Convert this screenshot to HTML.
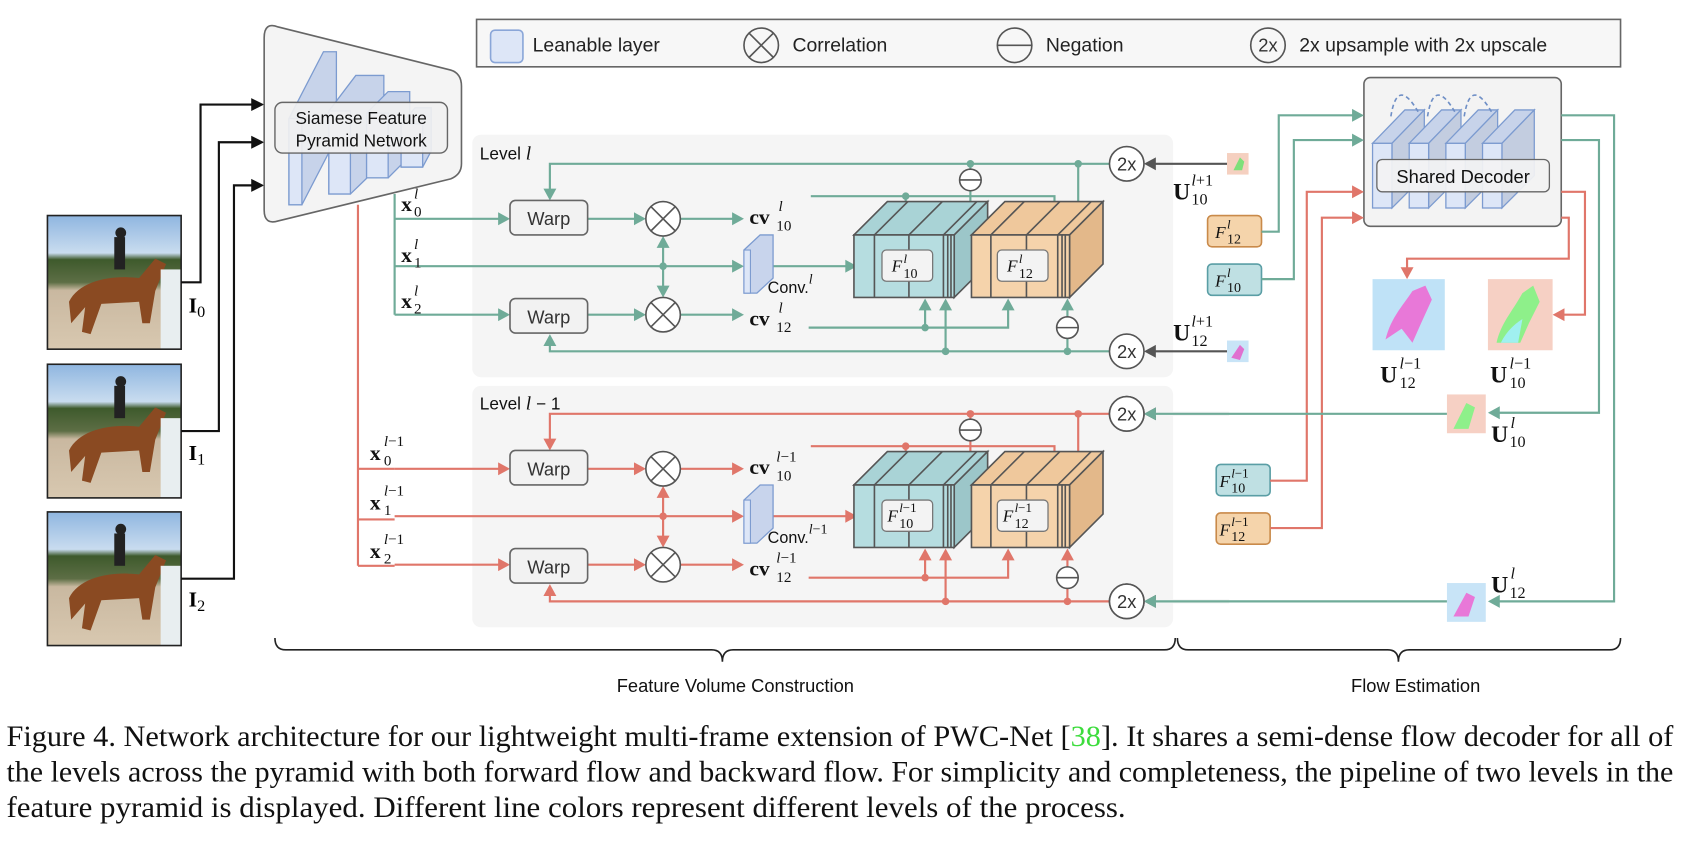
<!DOCTYPE html>
<html><head><meta charset="utf-8"><style>
html,body{margin:0;padding:0;background:#fff;}
svg{display:block}
.s{font-family:"Liberation Sans",sans-serif;}
.m{font-family:"Liberation Serif",serif;}
</style></head><body>
<svg width="1682" height="846" viewBox="0 0 1560 785" preserveAspectRatio="none" xmlns="http://www.w3.org/2000/svg">
<defs>
<linearGradient id="photo" x1="0" y1="0" x2="0" y2="1">
<stop offset="0" stop-color="#8fb6e0"/><stop offset="0.28" stop-color="#c9dcef"/><stop offset="0.33" stop-color="#3e5a2c"/><stop offset="0.5" stop-color="#5d6e45"/><stop offset="0.56" stop-color="#c9b8a0"/><stop offset="1" stop-color="#d8c8b0"/>
</linearGradient>
<g id="photoimg">
<rect x="0" y="0" width="124" height="124" fill="url(#photo)"/>
<path d="M20,80 C30,60 60,55 85,58 L100,40 L110,45 L100,70 L95,100 L88,100 L85,80 L50,82 L40,110 L32,108 L35,85 L22,100 Z" fill="#8a4a22"/>
<rect x="62" y="20" width="10" height="30" fill="#222"/>
<circle cx="68" cy="16" r="5" fill="#222"/>
<rect x="105" y="50" width="19" height="74" fill="#e8eef0"/>
<rect x="0" y="0" width="124" height="124" fill="none" stroke="#222" stroke-width="1.5"/>
</g>
<g id="slab">
<polygon points="0,0 30,-31 48,-31 18,0" fill="#c7d3ea" stroke="#7c9bd0" stroke-width="1.2"/>
<polygon points="18,0 48,-31 48,30 18,60" fill="#c3cde0" stroke="#7c9bd0" stroke-width="1.2"/>
<rect x="0" y="0" width="18" height="60" fill="#dde6f7" stroke="#7c9bd0" stroke-width="1.2"/>
</g>
<g id="lines" fill="none" stroke="currentColor" stroke-width="2">
<path d="M366,203 H463 M545,203 H589 M631,203 H680 M366,292 H463 M545,292 H589 M631,292 H680 M366,247 H680 M705,247 H785"/>
<path d="M615,229 V266"/>
<path d="M1029,152 H510 V176 M900,152 V157 M900,177 V188 M1000,152 V188 M752,182 H978 V188 M840,182 V188"/>
<path d="M1029,326 H510 V320 M750,304 H935 V286 M858,304 V286 M877,326 V286 M990,326 V314 M990,294 V286"/>
<g fill="currentColor" stroke="none">
<polygon points="473,203 462,197 462,209"/><polygon points="599,203 588,197 588,209"/><polygon points="690,203 679,197 679,209"/>
<polygon points="473,292 462,286 462,298"/><polygon points="599,292 588,286 588,298"/><polygon points="690,292 679,286 679,298"/>
<polygon points="690,247 679,241 679,253"/><polygon points="795,247 784,241 784,253"/>
<polygon points="615,219 609,230 621,230"/><polygon points="615,276 609,265 621,265"/>
<circle cx="615" cy="247" r="3.5"/>
<polygon points="510,186 504,175 516,175"/>
<polygon points="510,310 504,321 516,321"/>
<circle cx="900" cy="152" r="3.5"/><circle cx="1000" cy="152" r="3.5"/><circle cx="840" cy="182" r="3.5"/>
<polygon points="900,198 894,187 906,187"/><polygon points="1000,198 994,187 1006,187"/><polygon points="978,198 972,187 984,187"/><polygon points="840,198 834,187 846,187"/>
<circle cx="858" cy="304" r="3.5"/><circle cx="877" cy="326" r="3.5"/><circle cx="990" cy="326" r="3.5"/>
<polygon points="858,277 852,288 864,288"/><polygon points="935,277 929,288 941,288"/><polygon points="877,277 871,288 883,288"/><polygon points="990,277 984,288 996,288"/>
</g>
</g>
<g id="static">
<rect x="473" y="186" width="72" height="32" rx="5" fill="#f2f2f2" stroke="#666" stroke-width="1.5"/>
<rect x="473" y="277" width="72" height="32" rx="5" fill="#f2f2f2" stroke="#666" stroke-width="1.5"/>
<text x="509" y="209" class="s" font-size="17" fill="#333" text-anchor="middle">Warp</text>
<text x="509" y="300" class="s" font-size="17" fill="#333" text-anchor="middle">Warp</text>
<g fill="#fff" stroke="#555" stroke-width="1.5">
<circle cx="615" cy="203" r="16"/><path d="M604,192 L626,214 M626,192 L604,214"/>
<circle cx="615" cy="292" r="16"/><path d="M604,281 L626,303 M626,281 L604,303"/>
<circle cx="900" cy="167" r="10"/><path d="M890,167 H910"/>
<circle cx="990" cy="304" r="10"/><path d="M980,304 H1000"/>
<circle cx="1045" cy="152" r="16"/><circle cx="1045" cy="326" r="16"/>
</g>
<text x="1045" y="158" class="s" font-size="17" fill="#333" text-anchor="middle">2x</text>
<text x="1045" y="332" class="s" font-size="17" fill="#333" text-anchor="middle">2x</text>
<polygon points="690,232 705,218 717,218 717,258 702,272 690,272" fill="#c8d4ec" stroke="#7c9bd0" stroke-width="1.2"/>
<rect x="690" y="232" width="6" height="40" fill="#dde6f7" stroke="#7c9bd0" stroke-width="1"/>
<g stroke="#555" stroke-width="1.5">
<polygon points="792,218 823,187 916,187 885,218" fill="#a9d3d6"/>
<polygon points="885,218 916,187 916,245 885,276" fill="#9cc6c9"/>
<rect x="792" y="218" width="93" height="58" fill="#b6dde0"/>
<path d="M811,218 V276 M843,218 V276 M875,218 V276 M879,218 V276 M882,218 V276 M811,218 L842,187 M843,218 L874,187 M875,218 L906,187" fill="none"/>
<polygon points="901,218 932,187 1023,187 992,218" fill="#efc89c"/>
<polygon points="992,218 1023,187 1023,245 992,276" fill="#e3b88a"/>
<rect x="901" y="218" width="91" height="58" fill="#f5d3ab"/>
<path d="M919,218 V276 M952,218 V276 M981,218 V276 M985,218 V276 M988,218 V276 M919,218 L950,187 M952,218 L983,187 M981,218 L1012,187" fill="none"/>
</g>
<rect x="818" y="232" width="47" height="29" rx="4" fill="#f3f3f3" stroke="#777" stroke-width="1.2"/>
<rect x="925" y="232" width="47" height="29" rx="4" fill="#f3f3f3" stroke="#777" stroke-width="1.2"/>
<path d="M1138,152 H1071 M1138,326 H1071" stroke="#555" stroke-width="2"/>
<polygon points="1061,152 1072,146 1072,158" fill="#555"/><polygon points="1061,326 1072,320 1072,332" fill="#555"/>
</g>
</defs>

<rect x="442" y="18" width="1061" height="44" fill="#f7f7f7" stroke="#666" stroke-width="1.5"/>
<rect x="455" y="28" width="30" height="30" rx="4" fill="#dde6f7" stroke="#8aa6d8" stroke-width="1.5"/>
<text x="494" y="48" class="s" font-size="18" fill="#222">Leanable layer</text>
<circle cx="706" cy="42" r="16" fill="none" stroke="#555" stroke-width="1.5"/><path d="M695,31 L717,53 M717,31 L695,53" stroke="#555" stroke-width="1.5"/>
<text x="735" y="48" class="s" font-size="18" fill="#222">Correlation</text>
<circle cx="941" cy="42" r="16" fill="none" stroke="#555" stroke-width="1.5"/><path d="M925,42 H957" stroke="#555" stroke-width="1.5"/>
<text x="970" y="48" class="s" font-size="18" fill="#222">Negation</text>
<circle cx="1176" cy="42" r="16" fill="none" stroke="#555" stroke-width="1.5"/>
<text x="1176" y="48" class="s" font-size="17" fill="#333" text-anchor="middle">2x</text>
<text x="1205" y="48" class="s" font-size="18" fill="#222">2x upsample with 2x upscale</text>

<rect x="438" y="125" width="650" height="225" rx="8" fill="#f5f5f5"/>
<rect x="438" y="358" width="650" height="224" rx="8" fill="#f5f5f5"/>
<text x="445" y="148" class="s" font-size="16" fill="#111">Level <tspan class="m" font-style="italic" font-size="18">l</tspan></text>
<text x="445" y="380" class="s" font-size="16" fill="#111">Level <tspan class="m" font-style="italic" font-size="18">l</tspan> − 1</text>

<use href="#photoimg" x="44" y="200"/>
<use href="#photoimg" x="44" y="338"/>
<use href="#photoimg" x="44" y="475"/>
<text x="175" y="290" class="m" font-size="20" font-weight="bold">I<tspan font-weight="normal" font-size="15" dy="4">0</tspan></text>
<text x="175" y="427" class="m" font-size="20" font-weight="bold">I<tspan font-weight="normal" font-size="15" dy="4">1</tspan></text>
<text x="175" y="563" class="m" font-size="20" font-weight="bold">I<tspan font-weight="normal" font-size="15" dy="4">2</tspan></text>
<g fill="none" stroke="#111" stroke-width="2">
<path d="M168,262 H186 V97 H234 M168,400 H203 V132 H234 M168,537 H217 V172 H234"/>
</g>
<g fill="#111"><polygon points="245,97 233,91 233,103"/><polygon points="245,132 233,126 233,138"/><polygon points="245,172 233,166 233,178"/></g>

<path d="M332,190 V525 M332,435 H366 M332,482 H366 M332,525 H366" stroke="#e0766a" stroke-width="2" fill="none"/>
<path d="M366,180 V292" stroke="#6fab98" stroke-width="2" fill="none"/>

<path d="M245,35 Q245,20 258,25 L418,65 Q428,68 428,80 L428,152 Q428,162 418,166 L258,205 Q245,209 245,195 Z" fill="#f4f4f4" stroke="#666" stroke-width="1.5"/>
<g stroke="#7c9bd0" stroke-width="1.2">
<polygon points="268,190 268,110 300,48 312,48 312,128 280,190" fill="#c7d3ea"/>
<rect x="268" y="110" width="12" height="80" fill="#dde6f7"/>
<polygon points="305,180 305,103 330,70 356,70 356,150 325,180" fill="#c7d3ea"/>
<rect x="305" y="103" width="20" height="77" fill="#dde6f7"/>
<polygon points="340,165 340,105 360,85 380,85 380,145 360,165" fill="#c7d3ea"/>
<rect x="340" y="105" width="20" height="60" fill="#dde6f7"/>
<polygon points="372,155 372,115 385,100 400,100 400,140 392,155" fill="#c7d3ea"/>
<rect x="372" y="115" width="20" height="40" fill="#dde6f7"/>
</g>
<rect x="255" y="95" width="160" height="47" rx="7" fill="#f0f0f0" fill-opacity="0.92" stroke="#666" stroke-width="1.3"/>
<text x="335" y="115" class="s" font-size="16" fill="#111" text-anchor="middle">Siamese Feature</text>
<text x="335" y="136" class="s" font-size="16" fill="#111" text-anchor="middle">Pyramid Network</text>

<use href="#lines" style="color:#6fab98"/>
<use href="#static"/>
<use href="#lines" y="232" style="color:#e0766a"/>
<use href="#static" y="232"/>
<path d="M1140,384 H1072" stroke="#f5f5f5" stroke-width="4"/>
<path d="M1140,558 H1072" stroke="#f5f5f5" stroke-width="4"/>

<g class="m" fill="#111">
<text x="372" y="196" font-size="20" font-weight="bold">x</text><text x="384" y="184" font-size="14" font-style="italic">l</text><text x="384" y="201" font-size="14">0</text>
<text x="372" y="243" font-size="20" font-weight="bold">x</text><text x="384" y="231" font-size="14" font-style="italic">l</text><text x="384" y="248" font-size="14">1</text>
<text x="372" y="286" font-size="20" font-weight="bold">x</text><text x="384" y="274" font-size="14" font-style="italic">l</text><text x="384" y="291" font-size="14">2</text>
<text x="343" y="427" font-size="20" font-weight="bold">x</text><text x="356" y="414" font-size="14"><tspan font-style="italic">l</tspan>−1</text><text x="356" y="432" font-size="14">0</text>
<text x="343" y="473" font-size="20" font-weight="bold">x</text><text x="356" y="460" font-size="14"><tspan font-style="italic">l</tspan>−1</text><text x="356" y="478" font-size="14">1</text>
<text x="343" y="518" font-size="20" font-weight="bold">x</text><text x="356" y="505" font-size="14"><tspan font-style="italic">l</tspan>−1</text><text x="356" y="523" font-size="14">2</text>

<text x="695" y="208" font-size="20" font-weight="bold">cv</text><text x="722" y="196" font-size="14" font-style="italic">l</text><text x="720" y="214" font-size="14">10</text>
<text x="695" y="302" font-size="20" font-weight="bold">cv</text><text x="722" y="290" font-size="14" font-style="italic">l</text><text x="720" y="308" font-size="14">12</text>
<text x="695" y="440" font-size="20" font-weight="bold">cv</text><text x="720" y="428" font-size="14"><tspan font-style="italic">l</tspan>−1</text><text x="720" y="446" font-size="14">10</text>
<text x="695" y="534" font-size="20" font-weight="bold">cv</text><text x="720" y="522" font-size="14"><tspan font-style="italic">l</tspan>−1</text><text x="720" y="540" font-size="14">12</text>

<text x="827" y="252" font-size="16" font-style="italic">F</text><text x="838" y="244" font-size="12" font-style="italic">l</text><text x="838" y="258" font-size="13">10</text>
<text x="934" y="252" font-size="16" font-style="italic">F</text><text x="945" y="244" font-size="12" font-style="italic">l</text><text x="945" y="258" font-size="13">12</text>
<text x="823" y="484" font-size="16" font-style="italic">F</text><text x="834" y="475" font-size="12"><tspan font-style="italic">l</tspan>−1</text><text x="834" y="490" font-size="13">10</text>
<text x="930" y="484" font-size="16" font-style="italic">F</text><text x="941" y="475" font-size="12"><tspan font-style="italic">l</tspan>−1</text><text x="941" y="490" font-size="13">12</text>
</g>
<text x="712" y="272" class="s" font-size="15" fill="#111">Conv.<tspan class="m" font-style="italic" font-size="13" dy="-9">l</tspan></text>
<text x="712" y="504" class="s" font-size="15" fill="#111">Conv.<tspan class="m" font-size="13" dy="-9"><tspan font-style="italic">l</tspan>−1</tspan></text>

<rect x="1138" y="142" width="20" height="20" fill="#f5d0c0"/><path d="M1144,158 L1150,146 L1154,150 L1152,158Z" fill="#7ee07a"/>
<rect x="1138" y="316" width="20" height="20" fill="#c8e4f7"/><path d="M1142,332 L1150,320 L1154,324 L1150,334Z" fill="#e070d0"/>
<g class="m" fill="#111">
<text x="1088" y="185" font-size="22" font-weight="bold">U</text><text x="1105" y="172" font-size="15"><tspan font-style="italic">l</tspan>+1</text><text x="1105" y="190" font-size="15">10</text>
<text x="1088" y="316" font-size="22" font-weight="bold">U</text><text x="1105" y="303" font-size="15"><tspan font-style="italic">l</tspan>+1</text><text x="1105" y="321" font-size="15">12</text>
</g>

<rect x="1265" y="72" width="183" height="138" rx="6" fill="#f3f3f3" stroke="#666" stroke-width="1.5"/>
<use href="#slab" x="1273" y="133"/><use href="#slab" x="1307" y="133"/><use href="#slab" x="1341" y="133"/><use href="#slab" x="1375" y="133"/>
<g fill="none" stroke="#6f8fc6" stroke-width="1.5" stroke-dasharray="4,3">
<path d="M1290,108 Q1296,70 1316,105"/><path d="M1324,108 Q1330,70 1350,105"/><path d="M1358,108 Q1364,70 1384,105"/>
</g>
<rect x="1277" y="148" width="160" height="30" rx="5" fill="#f3f3f3" fill-opacity="0.92" stroke="#666" stroke-width="1.2"/>
<text x="1357" y="170" class="s" font-size="17" fill="#111" text-anchor="middle">Shared Decoder</text>

<rect x="1120" y="200" width="50" height="29" rx="4" fill="#f5d4ab" stroke="#c98a4a" stroke-width="1.5"/>
<rect x="1120" y="245" width="50" height="29" rx="4" fill="#bfe0e3" stroke="#5a9ea5" stroke-width="1.5"/>
<rect x="1128" y="431" width="50" height="29" rx="4" fill="#bfe0e3" stroke="#5a9ea5" stroke-width="1.5"/>
<rect x="1128" y="476" width="50" height="29" rx="4" fill="#f5d4ab" stroke="#c98a4a" stroke-width="1.5"/>
<g class="m" fill="#111">
<text x="1127" y="221" font-size="16" font-style="italic">F</text><text x="1138" y="212" font-size="12" font-style="italic">l</text><text x="1138" y="226" font-size="13">12</text>
<text x="1127" y="266" font-size="16" font-style="italic">F</text><text x="1138" y="257" font-size="12" font-style="italic">l</text><text x="1138" y="271" font-size="13">10</text>
<text x="1131" y="452" font-size="16" font-style="italic">F</text><text x="1142" y="443" font-size="12"><tspan font-style="italic">l</tspan>−1</text><text x="1142" y="457" font-size="13">10</text>
<text x="1131" y="497" font-size="16" font-style="italic">F</text><text x="1142" y="488" font-size="12"><tspan font-style="italic">l</tspan>−1</text><text x="1142" y="502" font-size="13">12</text>
</g>
<g fill="none" stroke-width="2">
<path d="M1170,215 H1186 V107 H1255 M1170,259 H1200 V130 H1255" stroke="#6fab98"/>
<path d="M1178,446 H1212 V178 H1255 M1178,490 H1226 V202 H1255" stroke="#e0766a"/>
<path d="M1448,107 H1497 V558 H1390 M1448,130 H1483 V383 H1390" stroke="#6fab98"/>
<path d="M1448,178 H1470 V292 H1450 M1448,202 H1455 V240 H1305 V250" stroke="#e0766a"/>
<path d="M1342,384 H1071 M1342,558 H1071" stroke="#6fab98"/>
</g>
<g fill="#6fab98"><polygon points="1265,107 1254,101 1254,113"/><polygon points="1265,130 1254,124 1254,136"/><polygon points="1380,558 1391,552 1391,564"/><polygon points="1380,383 1391,377 1391,389"/><polygon points="1061,384 1072,378 1072,390"/><polygon points="1061,558 1072,552 1072,564"/></g>
<g fill="#e0766a"><polygon points="1440,292 1451,286 1451,298"/><polygon points="1305,259 1299,248 1311,248"/><polygon points="1265,178 1254,172 1254,184"/><polygon points="1265,202 1254,196 1254,208"/></g>
<circle cx="1045" cy="384" r="16" fill="#fff" stroke="#555" stroke-width="1.5"/><text x="1045" y="390" class="s" font-size="17" fill="#333" text-anchor="middle">2x</text>
<circle cx="1045" cy="558" r="16" fill="#fff" stroke="#555" stroke-width="1.5"/><text x="1045" y="564" class="s" font-size="17" fill="#333" text-anchor="middle">2x</text>

<rect x="1273" y="259" width="67" height="66" fill="#bfe2f7"/>
<path d="M1285,315 C1290,295 1300,285 1310,270 L1322,265 L1328,278 L1318,300 L1310,318 L1300,305 Z" fill="#e878d8"/>
<rect x="1380" y="259" width="60" height="66" fill="#f6d0c4"/>
<path d="M1388,318 C1392,300 1402,290 1412,272 L1422,265 L1428,280 L1418,300 L1410,318 Z" fill="#8ef08a"/>
<path d="M1392,318 C1398,306 1406,300 1412,296 L1408,318 Z" fill="#a0f0f0"/>
<rect x="1342" y="366" width="36" height="36" fill="#f6d0c4"/><path d="M1348,398 L1360,374 L1368,378 L1362,398Z" fill="#8ef08a"/>
<rect x="1342" y="541" width="36" height="36" fill="#c8e4f7"/><path d="M1348,572 L1360,550 L1368,554 L1362,572Z" fill="#e878d8"/>
<g class="m" fill="#111">
<text x="1280" y="355" font-size="22" font-weight="bold">U</text><text x="1298" y="342" font-size="15"><tspan font-style="italic">l</tspan>−1</text><text x="1298" y="360" font-size="15">12</text>
<text x="1382" y="355" font-size="22" font-weight="bold">U</text><text x="1400" y="342" font-size="15"><tspan font-style="italic">l</tspan>−1</text><text x="1400" y="360" font-size="15">10</text>
<text x="1383" y="410" font-size="22" font-weight="bold">U</text><text x="1401" y="397" font-size="15" font-style="italic">l</text><text x="1400" y="415" font-size="15">10</text>
<text x="1383" y="550" font-size="22" font-weight="bold">U</text><text x="1401" y="537" font-size="15" font-style="italic">l</text><text x="1400" y="555" font-size="15">12</text>
</g>

<g fill="none" stroke="#222" stroke-width="1.5">
<path d="M255,592 Q255,603 265,603 H660 Q670,603 670,614 Q670,603 680,603 H1080 Q1090,603 1090,592"/>
<path d="M1092,592 Q1092,603 1102,603 H1287 Q1297,603 1297,614 Q1297,603 1307,603 H1493 Q1503,603 1503,592"/>
</g>
<text x="682" y="642" class="s" font-size="17" fill="#111" text-anchor="middle">Feature Volume Construction</text>
<text x="1313" y="642" class="s" font-size="17" fill="#111" text-anchor="middle">Flow Estimation</text>

<g class="m" font-size="27" fill="#111">
<text x="6" y="692" textLength="1546" lengthAdjust="spacingAndGlyphs">Figure 4. Network architecture for our lightweight multi-frame extension of PWC-Net [<tspan fill="#3ddc3d">38</tspan>]. It shares a semi-dense flow decoder for all of</text>
<text x="6" y="725" textLength="1546" lengthAdjust="spacingAndGlyphs">the levels across the pyramid with both forward flow and backward flow. For simplicity and completeness, the pipeline of two levels in the</text>
<text x="6" y="758" textLength="1038" lengthAdjust="spacingAndGlyphs">feature pyramid is displayed. Different line colors represent different levels of the process.</text>
</g>
</svg>
</body></html>
